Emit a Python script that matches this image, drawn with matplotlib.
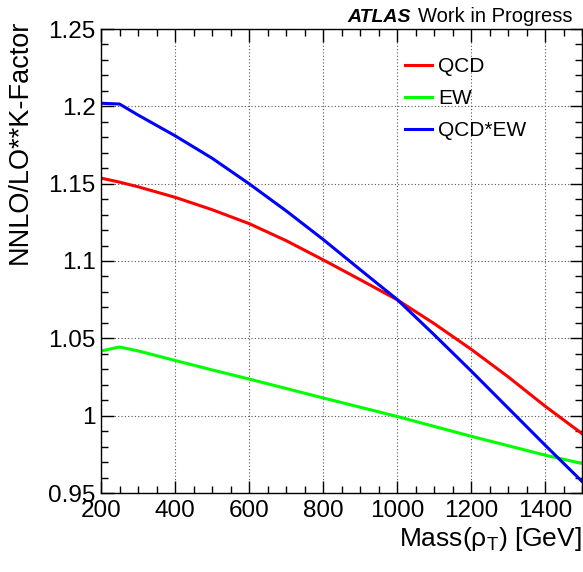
import numpy as np
import matplotlib
matplotlib.use("Agg")
import matplotlib.pyplot as plt
from matplotlib.ticker import MultipleLocator

plt.rcParams['font.family'] = ['Liberation Sans', 'DejaVu Sans']
plt.rcParams['mathtext.fontset'] = 'custom'
plt.rcParams['mathtext.rm'] = 'Liberation Sans'
plt.rcParams['mathtext.it'] = 'Liberation Sans:italic'

# values
mass = [200, 250, 300, 400, 500, 600, 700, 800, 900, 1000, 1100, 1200, 1300, 1400, 1500]
k_qcd = [1.1536, 1.1510, 1.1480, 1.1412, 1.1332, 1.1242, 1.1132, 1.1008, 1.0880,
         1.0750, 1.0596, 1.0430, 1.0252, 1.0062, 0.9884]
k_ew = [1.0418, 1.0444, 1.0419, 1.0357, 1.0296, 1.0237, 1.0176, 1.0115, 1.0055,
        0.9995, 0.9931, 0.9867, 0.9806, 0.9745, 0.9691]
k_qcd_ew = [1.2020, 1.2015, 1.1944, 1.1810, 1.1665, 1.1500, 1.1325, 1.1140, 1.0945,
            1.0752, 1.0524, 1.0290, 1.0050, 0.9810, 0.9575]

fig = plt.figure(figsize=(5.83, 5.72), dpi=100)
ax = fig.add_axes([101/583, 79/572, 481/583, 464/572])

ax.plot(mass, k_qcd, color='#ff0000', lw=2.2, label='QCD')
ax.plot(mass, k_ew, color='#00ff00', lw=2.2, label='EW')
ax.plot(mass, k_qcd_ew, color='#0000ff', lw=2.2, label='QCD*EW')

ax.set_xlim(200, 1500)
ax.set_ylim(0.95, 1.25)
ax.xaxis.set_major_locator(MultipleLocator(200))
ax.xaxis.set_minor_locator(MultipleLocator(50))
ax.yaxis.set_minor_locator(MultipleLocator(0.01))
ax.set_yticks([0.95, 1.0, 1.05, 1.1, 1.15, 1.2, 1.25])
ax.set_yticklabels(['0.95', '1', '1.05', '1.1', '1.15', '1.2', '1.25'])

ax.tick_params(which='both', direction='in', top=True, right=True, labelsize=17.5)
ax.tick_params(which='major', length=9, width=1)
ax.tick_params(which='minor', length=5, width=1)
ax.tick_params(axis='x', pad=5)
ax.tick_params(axis='y', pad=4)
ax.grid(which='major', color='#555555', ls=(0, (1, 2)), lw=0.8)
for s in ax.spines.values():
    s.set_linewidth(1.0)

fig.text(20/583, 1 - 20/572, 'NNLO/LO**K-Factor', fontsize=19.5, rotation=90,
         ha='center', va='top')
fig.text(582/583, 1 - 546/572, r'Mass($\mathrm{ρ}_{\mathrm{T}}$) [GeV]', fontsize=19,
         ha='right', va='baseline')

leg = ax.legend(loc='upper left', bbox_to_anchor=(0.593, 0.98), frameon=False,
                fontsize=15, handlelength=1.3, handletextpad=0.3, labelspacing=0.62)

fig.text(347/583, 1 - 22/572, 'ATLAS', fontsize=14, fontweight='bold',
         fontstyle='italic', ha='left', va='baseline')
fig.text(573/583, 1 - 22/572, 'Work in Progress', fontsize=14.5,
         ha='right', va='baseline')

fig.savefig('out.png', dpi=100)
